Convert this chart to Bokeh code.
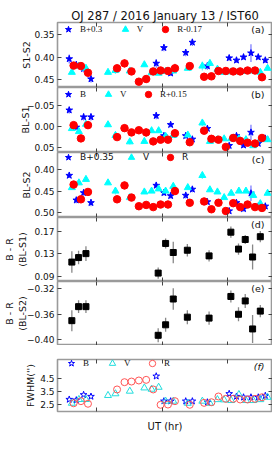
import math
from bokeh.plotting import figure
from bokeh.layouts import column
from bokeh.models import Range1d, LinearAxis, FixedTicker, Label, Legend, LegendItem
from bokeh.embed import file_html
from bokeh.resources import INLINE

# ---------------- data ----------------
t_B = [18.575, 18.683, 18.795, 18.908, 19.908, 20.026, 20.129, 20.360, 20.462, 20.692,
       21.026, 21.138, 21.246, 21.360, 21.472, 21.580]
t_V = [18.615, 18.723, 18.831, 19.169, 19.283, 19.503, 19.726, 19.837, 19.945, 20.052, 20.169,
       20.392, 20.615, 20.731, 20.846, 20.949, 21.057, 21.175, 21.283, 21.395, 21.503, 21.615]
t_R = [18.642, 18.754, 18.862, 19.308, 19.422, 19.529, 19.642, 19.754, 19.862, 19.975, 20.088,
       20.195, 20.422, 20.642, 20.754, 20.862, 20.975, 21.088, 21.195, 21.308, 21.422, 21.529]
t_BR = [18.615, 18.718, 18.831, 19.938, 20.052, 20.169, 20.385, 20.718, 21.052, 21.169,
        21.272, 21.385, 21.503]

# (a) S1-S2
a_B = [0.404, 0.417, 0.426, 0.449, 0.414, 0.379, 0.436, 0.390, 0.367, 0.420,
       0.402, 0.407, 0.400, 0.391, 0.400, 0.407]
a_Be = [0.010, 0.007, 0.008, 0.008, 0.010, 0.008, 0.006, 0.008, 0.008, 0.008,
        0.006, 0.006, 0.006, 0.020, 0.006, 0.006]
a_V = [0.434, 0.420, 0.425, 0.434, 0.430, 0.431, 0.417, 0.435, 0.436, 0.432, 0.431,
       0.425, 0.420, 0.414, 0.427, 0.434, 0.433, 0.433, 0.432, 0.431, 0.434, 0.425]
a_Ve = [0.004, 0.006, 0.004, 0.004, 0.008, 0.004, 0.004, 0.004, 0.004, 0.004, 0.006,
        0.004, 0.010, 0.006, 0.004, 0.004, 0.004, 0.004, 0.004, 0.004, 0.004, 0.004]
a_R = [0.419, 0.420, 0.435, 0.425, 0.414, 0.432, 0.455, 0.449, 0.432, 0.430, 0.431,
       0.425, 0.420, 0.444, 0.443, 0.431, 0.431, 0.432, 0.432, 0.430, 0.430, 0.445]
a_Re = [0.008, 0.007, 0.006, 0.007, 0.010, 0.007, 0.006, 0.009, 0.006, 0.006, 0.006,
        0.010, 0.005, 0.005, 0.005, 0.005, 0.005, 0.005, 0.005, 0.005, 0.005, 0.005]

# (b) BL-S1
b_B = [-0.038, 0.002, -0.022, -0.022, -0.025, 0.022, -0.004, 0.022, 0.030, 0.005,
       0.045, 0.022, 0.044, 0.014, 0.040, 0.028]
b_Be = [0.008, 0.007, 0.008, 0.008, 0.008, 0.007, 0.006, 0.007, 0.007, 0.006,
        0.006, 0.006, 0.006, 0.018, 0.006, 0.006]
b_V = [0.005, 0.012, -0.005, -0.004, 0.021, 0.036, 0.035, 0.010, 0.010, 0.023, 0.021,
       0.020, -0.008, 0.035, 0.031, 0.029, 0.029, 0.029, 0.031, 0.045, 0.031, 0.031]
b_Ve = [0.004, 0.004, 0.004, 0.004, 0.008, 0.006, 0.004, 0.004, 0.004, 0.004, 0.004,
        0.004, 0.008, 0.004, 0.004, 0.004, 0.004, 0.004, 0.004, 0.004, 0.004, 0.004]
b_R = [-0.003, 0.028, -0.003, 0.025, 0.004, 0.014, 0.009, 0.014, 0.035, 0.031, 0.031,
       0.016, 0.037, 0.010, 0.029, 0.031, 0.048, 0.027, 0.034, 0.038, 0.040, 0.027]
b_Re = [0.008, 0.006, 0.006, 0.008, 0.009, 0.006, 0.006, 0.010, 0.006, 0.006, 0.006,
        0.010, 0.005, 0.005, 0.005, 0.005, 0.005, 0.005, 0.005, 0.005, 0.005, 0.005]

# (c) BL-S2
c_B = [0.414, 0.471, 0.454, 0.477, 0.437, 0.454, 0.461, 0.460, 0.446, 0.475,
       0.496, 0.477, 0.491, 0.455, 0.485, 0.485]
c_Be = [0.006, 0.007, 0.007, 0.008, 0.007, 0.007, 0.006, 0.007, 0.007, 0.006,
        0.005, 0.006, 0.006, 0.018, 0.006, 0.006]
c_V = [0.442, 0.431, 0.423, 0.431, 0.450, 0.465, 0.452, 0.450, 0.445, 0.450, 0.439,
       0.442, 0.414, 0.447, 0.452, 0.465, 0.455, 0.450, 0.450, 0.460, 0.479, 0.455]
c_Ve = [0.004, 0.004, 0.004, 0.004, 0.008, 0.006, 0.004, 0.004, 0.004, 0.004, 0.004,
        0.004, 0.008, 0.004, 0.004, 0.004, 0.004, 0.004, 0.004, 0.004, 0.004, 0.004]
c_R = [0.435, 0.469, 0.452, 0.469, 0.437, 0.465, 0.485, 0.482, 0.487, 0.481, 0.481,
       0.450, 0.477, 0.474, 0.492, 0.477, 0.496, 0.478, 0.487, 0.481, 0.487, 0.489]
c_Re = [0.008, 0.006, 0.006, 0.008, 0.009, 0.006, 0.006, 0.008, 0.006, 0.006, 0.006,
        0.009, 0.005, 0.005, 0.005, 0.005, 0.005, 0.005, 0.005, 0.005, 0.005, 0.005]

# (d) B - R (BL-S1), (e) B - R (BL-S2)
d_BR = [0.115, 0.123, 0.130, 0.0955, 0.148, 0.132, 0.136, 0.126, 0.168, 0.138, 0.155, 0.124, 0.160]
d_err = [0.019, 0.012, 0.013, 0.010, 0.009, 0.019, 0.011, 0.010, 0.010, 0.010, 0.008, 0.022, 0.010]
e_BR = [-0.370, -0.348, -0.348, -0.393, -0.3765, -0.336, -0.3645, -0.366, -0.332, -0.360,
        -0.339, -0.383, -0.355]
e_err = [0.0165, 0.010, 0.010, 0.011, 0.011, 0.017, 0.011, 0.0105, 0.0095, 0.011, 0.011, 0.022, 0.0095]

# (f) FWHM
f_B = [2.91, 2.86, 3.27, 3.14, 4.70, 2.78, 2.78, 2.78, 2.78, 2.70, 3.35, 3.14, 3.08, 3.08, 3.08, 3.20]
f_V = [2.62, 2.91, 2.91, 3.22, 3.35, 3.55, 3.80, 3.70, 3.85, 2.78, 2.78, 2.62, 2.78, 2.62, 2.90,
       2.88, 2.83, 3.29, 2.83, 2.83, 2.90, 3.08]
f_R = [2.62, 2.78, 2.58, 3.68, 4.24, 4.29, 4.37, 4.42, 3.68, 2.50, 2.52, 2.78, 2.50, 2.65, 2.70,
       3.14, 2.96, 2.96, 2.91, 2.91, 2.96, 3.08]

# ticks
x_ticks = [19, 20, 21]
x_tick_labels = ["19", "20", "21"]
a_ticks, a_labels = [0.35, 0.40, 0.45], ["0.35", "0.40", "0.45"]
b_ticks, b_labels = [-0.05, 0.0, 0.05], ["\u22120.05", "0.00", "0.05"]
c_ticks, c_labels = [0.40, 0.45, 0.50], ["0.40", "0.45", "0.50"]
d_ticks, d_labels = [0.09, 0.13, 0.17], ["0.09", "0.13", "0.17"]
e_ticks, e_labels = [-0.40, -0.36, -0.32], ["\u22120.40", "\u22120.36", "\u22120.32"]
f_ticks, f_labels = [2.5, 3.5, 4.5], ["2.5", "3.5", "4.5"]

# ---------------- styling ----------------
BLUE, CYAN, RED = "#0000ff", "#00ffff", "#ff0000"
FONT = "DejaVu Sans"
SERIF = "Liberation Serif"
xr = Range1d(18.395, 21.69)


def style_axis(ax, ticks, labels=None):
    ax.ticker = FixedTicker(ticks=ticks)
    ax.major_tick_in = 4
    ax.major_tick_out = 0
    ax.minor_tick_in = 0
    ax.minor_tick_out = 0
    ax.axis_line_color = None
    ax.major_tick_line_color = "#444444"
    ax.major_tick_line_width = 1
    if labels is not None:
        ax.major_label_overrides = dict(zip(ticks, labels))
        ax.major_label_text_font = FONT
        ax.major_label_text_font_size = "9px"
        ax.major_label_text_color = "#111111"
        ax.major_label_standoff = 3
    else:
        ax.major_label_text_font_size = "0px"
        ax.major_label_text_color = None
        ax.major_label_text_alpha = 0
        ax.major_label_standoff = 0


def make_panel(height, y_start, y_end, yticks, ylabels, ytitle, ystand, top=0, bottom=0):
    p = figure(width=272, height=height, x_range=xr, y_range=Range1d(y_start, y_end),
               output_backend="svg", toolbar_location=None,
               min_border_left=54, min_border_right=0, min_border_top=top, min_border_bottom=bottom)
    p.grid.visible = False
    p.outline_line_color = "#9a9a9a"
    p.outline_line_width = 1.6
    p.background_fill_color = "white"
    p.border_fill_color = "white"
    ya = p.yaxis[0]
    style_axis(ya, yticks, ylabels)
    ya.axis_label = ytitle
    ya.axis_label_text_font = FONT
    ya.axis_label_text_font_size = "9.5px"
    ya.axis_label_text_font_style = "normal"
    ya.axis_label_text_color = "#111111"
    ya.axis_label_standoff = ystand
    xb = p.xaxis[0]
    style_axis(xb, x_ticks)
    ra = LinearAxis()
    style_axis(ra, yticks)
    p.add_layout(ra, "right")
    ta = LinearAxis()
    style_axis(ta, x_ticks)
    p.add_layout(ta, "above")
    return p, xb


def legend_item(p, r, label, xc, yc_top, fh, font):
    gw = 16
    p.add_layout(Legend(items=[LegendItem(label=label, renderers=[r])],
                        location=(xc - gw / 2, fh - yc_top - gw / 2), orientation="horizontal",
                        background_fill_alpha=0, border_line_color=None, padding=0, margin=0,
                        glyph_width=gw, glyph_height=gw, label_standoff=4, label_height=gw,
                        label_text_font=font, label_text_font_size="9px",
                        label_text_color="#111111"))


def panel_tag(p, tag, fh, italic=False):
    p.add_layout(Label(x=207, y=fh - 7, x_units="screen", y_units="screen", text=tag,
                       text_align="right", text_baseline="middle",
                       text_font=FONT, text_font_size="9.5px",
                       text_font_style="italic" if italic else "normal", text_color="#111111"))


def errpanel(p, yB, eB, yV, eV, yR, eR):
    p.segment(t_B, [y - e for y, e in zip(yB, eB)], t_B, [y + e for y, e in zip(yB, eB)],
              line_color=BLUE, line_alpha=0.55, line_width=1.2)
    p.segment(t_V, [y - e for y, e in zip(yV, eV)], t_V, [y + e for y, e in zip(yV, eV)],
              line_color=CYAN, line_alpha=0.6, line_width=1.2)
    p.segment(t_R, [y - e for y, e in zip(yR, eR)], t_R, [y + e for y, e in zip(yR, eR)],
              line_color=RED, line_alpha=0.55, line_width=1.2)
    rB = p.scatter(t_B, yB, marker="star", size=7, fill_color=BLUE, line_color=BLUE)
    rV = p.scatter(t_V, yV, marker="triangle", size=7, fill_color=CYAN, line_color=CYAN)
    rR = p.scatter(t_R, yR, marker="circle", size=7.5, fill_color=RED, line_color=RED)
    return rB, rV, rR


# (a)
pa, _ = make_panel(87, 0.468, 0.3225, a_ticks, a_labels, "S1-S2", -1, top=22)
pa.title.text = "OJ 287 / 2016 January 13 / IST60"
pa.title.align = "center"
pa.title.text_font = FONT
pa.title.text_font_size = "11.5px"
pa.title.text_font_style = "normal"
pa.title.text_color = "#111111"
pa.title.standoff = 0
rB, rV, rR = errpanel(pa, a_B, a_Be, a_V, a_Ve, a_R, a_Re)
legend_item(pa, rB, "B+0.3", 11, 7, 65, SERIF)
legend_item(pa, rV, "V", 67.7, 7, 65, SERIF)
legend_item(pa, rR, "R-0.17", 108.3, 7, 65, SERIF)
panel_tag(pa, "(a)", 65)

# (b)
pb, _ = make_panel(65, 0.061, -0.091, b_ticks, b_labels, "BL-S1", -7)
rB, rV, rR = errpanel(pb, b_B, b_Be, b_V, b_Ve, b_R, b_Re)
legend_item(pb, rB, "B", 11, 7, 65, SERIF)
legend_item(pb, rV, "V", 51, 7, 65, SERIF)
legend_item(pb, rR, "R+0.15", 91, 7, 65, SERIF)
panel_tag(pb, "(b)", 65)

# (c)
pc, _ = make_panel(65, 0.511, 0.361, c_ticks, c_labels, "BL-S2", -1)
rB, rV, rR = errpanel(pc, c_B, c_Be, c_V, c_Ve, c_R, c_Re)
legend_item(pc, rB, "B+0.35", 11, 5, 65, FONT)
legend_item(pc, rV, "V", 74, 5, 65, FONT)
legend_item(pc, rR, "R", 113, 5, 65, FONT)
panel_tag(pc, "(c)", 65)

# (d)
pd_, _ = make_panel(64, 0.0806, 0.194, d_ticks, d_labels, "B - R\n(BL-S1)", 3)
pd_.segment(t_BR, [y - e for y, e in zip(d_BR, d_err)], t_BR, [y + e for y, e in zip(d_BR, d_err)],
            line_color="#888888", line_width=1.3)
pd_.scatter(t_BR, d_BR, marker="square", size=6, fill_color="black", line_color="black")
panel_tag(pd_, "(d)", 64)

# (e)
pe, _ = make_panel(64, -0.409, -0.3085, e_ticks, e_labels, "B - R\n(BL-S2)", -4)
pe.segment(t_BR, [y - e for y, e in zip(e_BR, e_err)], t_BR, [y + e for y, e in zip(e_BR, e_err)],
           line_color="#888888", line_width=1.3)
pe.scatter(t_BR, e_BR, marker="square", size=6, fill_color="black", line_color="black")
panel_tag(pe, "(e)", 64)

# (f)
pf, xb = make_panel(102, 1.985, 5.985, f_ticks, f_labels, "FWHM('')", 1, top=14, bottom=36)
style_axis(xb, x_ticks, x_tick_labels)
xb.major_label_standoff = 1
xb.major_label_text_font_size = "9.5px"
xb.axis_label = "UT (hr)"
xb.axis_label_text_font = FONT
xb.axis_label_text_font_size = "10px"
xb.axis_label_text_font_style = "normal"
xb.axis_label_text_color = "#111111"
xb.axis_label_standoff = 9
fB = pf.scatter(t_B, f_B, marker="star", size=7, fill_color=None, line_color=BLUE, line_width=1)
fV = pf.scatter(t_V, f_V, marker="triangle", size=7, fill_color=None, line_color="#22dddd", line_width=1)
fR = pf.scatter(t_R, f_R, marker="circle", size=7, fill_color=None, line_color="#ff5555", line_width=1)
legend_item(pf, fB, "B", 14, 4.3, 52, SERIF)
legend_item(pf, fV, "V", 55, 4.3, 52, SERIF)
legend_item(pf, fR, "R", 95, 4.3, 52, SERIF)
panel_tag(pf, "(f)", 52, italic=True)

layout = column(pa, pb, pc, pd_, pe, pf, spacing=0)
open("out.html", "w").write(file_html(layout, INLINE))
